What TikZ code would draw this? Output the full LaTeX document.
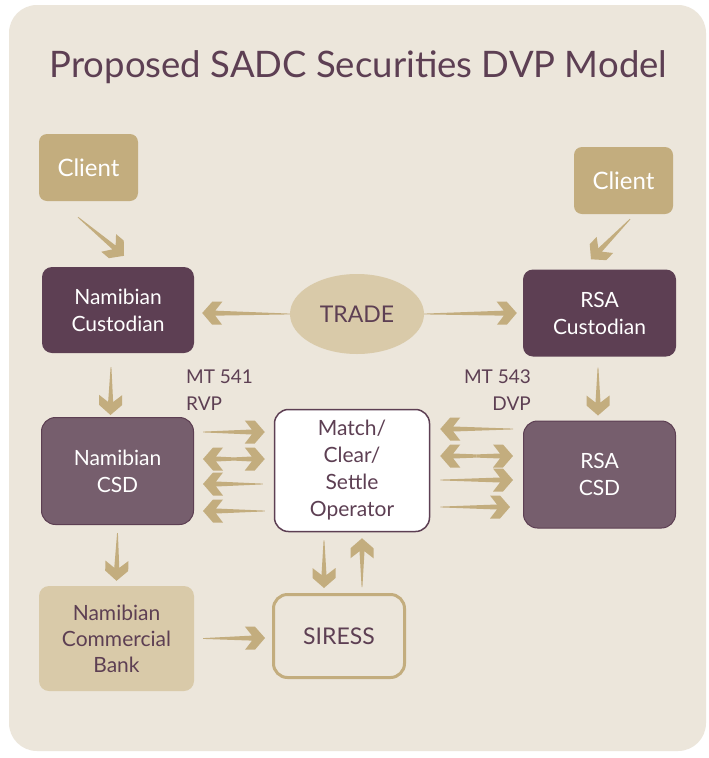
\documentclass[tikz,border=0pt]{standalone}
\usepackage{fontspec}
\setmainfont{Lato}
\usetikzlibrary{calc,shapes.geometric}

\definecolor{sadcbg}{HTML}{ECE6DB}
\definecolor{sadcgold}{HTML}{C3AD7E}
\definecolor{sadctan}{HTML}{D9CAA9}
\definecolor{sadcplum}{HTML}{5D3F53}
\definecolor{sadcmauve}{HTML}{765E6D}

\tikzset{
  client/.style={fill=sadcgold, text=white, rounded corners=8pt, minimum width=99pt,
    minimum height=67pt, inner sep=0pt, font=\fontsize{24}{28}\selectfont},
  custodian/.style={fill=sadcplum, text=white, rounded corners=10pt, minimum width=152pt,
    minimum height=86pt, inner sep=0pt, align=center, font=\fontsize{21}{27}\selectfont},
  csd/.style={custodian, fill=sadcmauve, draw=sadcplum, line width=1pt,
    rounded corners=14pt, minimum height=107pt},
  plumtext/.style={text=sadcplum, inner sep=0pt, align=center},
  arrowgold/.style={fill=sadcgold},
}

% tapered arrow: #1 tail half width, #2 tail, #3 tip
\newcommand\fatarrow[3][0.4pt]{%
  \coordinate (fa-t) at (#2);
  \coordinate (fa-e) at (#3);
  \coordinate (fa-o) at ($(fa-e)!10pt!(fa-t)$);
  \coordinate (fa-b) at ($(fa-e)!20pt!(fa-t)$);
  \coordinate (fa-m) at ($(fa-e)!13pt!(fa-t)$);
  \fill[arrowgold] ($(fa-t)!#1!90:(fa-e)$) -- ($(fa-m)!2.5pt!90:(fa-e)$)
    -- ($(fa-b)!11.5pt!90:(fa-e)$) -- ($(fa-o)!11.5pt!90:(fa-e)$) -- (fa-e)
    -- ($(fa-o)!11.5pt!-90:(fa-e)$) -- ($(fa-b)!11.5pt!-90:(fa-e)$)
    -- ($(fa-m)!2.5pt!-90:(fa-e)$) -- ($(fa-t)!#1!-90:(fa-e)$) -- cycle;
}
% arrow with a head at both ends
\newcommand\fatarrows[2]{%
  \coordinate (fa-mid) at ($(#1)!0.5!(#2)$);
  \coordinate (fa-l) at (#1);
  \coordinate (fa-r) at (#2);
  \fatarrow[1.6pt]{fa-mid}{fa-l}
  \fatarrow[1.6pt]{fa-mid}{fa-r}
}

\begin{document}
\begin{tikzpicture}[x=1pt,y=-1pt]
\fill[white] (0,0) rectangle (709,758);
\useasboundingbox (0,0) rectangle (709,758);
\fill[sadcbg, rounded corners=28pt] (9,5) rectangle (706,751);

\node[text=sadcplum, anchor=base, font=\fontsize{36.5}{42}\selectfont] (title) at (358.5,77)
  {Proposed SADC Securities DVP Model};

% parties
\node[client] (clientL) at (88.5,167.5) {Client};
\node[client] (clientR) at (623.5,180.5) {Client};
\node[custodian] (custL) at (118,310) {Namibian\\Custodian};
\node[custodian, minimum width=153pt, minimum height=87pt] (custR) at (599.5,313) {RSA\\Custodian};
\node[ellipse, fill=sadctan, minimum width=134pt, minimum height=80pt, text=sadcplum,
  font=\fontsize{23}{27}\selectfont] (trade) at (357,314) {TRADE};

\node[csd] (csdL) at (117.5,471) {Namibian\\CSD};
\node[csd] (csdR) at (599.5,474.5) {RSA\\CSD};
\node[plumtext, fill=white, draw=sadcplum, line width=1.5pt, rounded corners=14pt,
  minimum width=155pt, minimum height=122pt, font=\fontsize{21}{27}\selectfont]
  (oper) at (352,470.5) {Match/\\Clear/\\Settle\\Operator};

\node[plumtext, fill=sadctan, rounded corners=10pt, minimum width=155pt, minimum height=105pt,
  font=\fontsize{21}{26}\selectfont] (bank) at (116.5,638.5) {Namibian\\Commercial\\Bank};
\node[plumtext, draw=sadcgold, line width=3pt, rounded corners=14pt, minimum width=131pt,
  minimum height=83pt, font=\fontsize{23}{27}\selectfont] (siress) at (339,636) {SIRESS};

% message types
\node[plumtext, align=left, anchor=west, font=\fontsize{19}{27}\selectfont] (mtL) at (186,390)
  {MT 541\\RVP};
\node[plumtext, align=right, anchor=east, font=\fontsize{19}{27}\selectfont] (mtR) at (531,390)
  {MT 543\\DVP};

% arrows
\fatarrow{[xshift=-10.5pt,yshift=-16pt]clientL.south}{[xshift=6pt,yshift=11pt]custL.north}
\fatarrow{[xshift=6.5pt,yshift=-5pt]clientR.south}{[xshift=-8.5pt,yshift=10pt]custR.north}
\fatarrow{trade.west}{[xshift=8pt,yshift=-3pt]custL.east}
\fatarrow{trade.east}{[xshift=-6pt]custR.west}
\fatarrow{[xshift=-7pt,yshift=-14pt]custL.south}{[xshift=-7pt,yshift=2pt]csdL.north}
\fatarrow{[xshift=-1.5pt,yshift=-11pt]custR.south}{[xshift=-1.5pt,yshift=5pt]csdR.north}
\fatarrow{[yshift=-8pt]csdL.south}{[yshift=5pt]bank.north}
\fatarrow{[xshift=9pt]bank.east}{[xshift=-7pt,yshift=-2pt]siress.west}
\fatarrow{[xshift=-28pt,yshift=-8pt]oper.south}{[xshift=-15pt,yshift=5pt]siress.north}
\fatarrow{[xshift=23pt,yshift=6pt]siress.north}{[xshift=10pt,yshift=-6pt]oper.south}

% CSD <-> operator
\fatarrow{[xshift=9pt,yshift=39pt]csdL.east}{[xshift=-9pt,yshift=38.5pt]oper.west}
\fatarrows{[xshift=9pt,yshift=12pt]csdL.east}{[xshift=-9pt,yshift=11.5pt]oper.west}
\fatarrow{[xshift=-11pt,yshift=-13.5pt]oper.west}{[xshift=9pt,yshift=-13pt]csdL.east}
\fatarrow{[xshift=-9pt,yshift=-40.5pt]oper.west}{[xshift=9pt,yshift=-40pt]csdL.east}

\fatarrow{[xshift=-10pt,yshift=45.5pt]csdR.west}{[xshift=10pt,yshift=41.5pt]oper.east}
\fatarrows{[xshift=10pt,yshift=14.5pt]oper.east}{[xshift=-10pt,yshift=18.5pt]csdR.west}
\fatarrow{[xshift=10pt,yshift=-9.5pt]oper.east}{[xshift=-10pt,yshift=-5.5pt]csdR.west}
\fatarrow{[xshift=10pt,yshift=-36.5pt]oper.east}{[xshift=-13pt,yshift=-32.5pt]csdR.west}
\end{tikzpicture}
\end{document}
